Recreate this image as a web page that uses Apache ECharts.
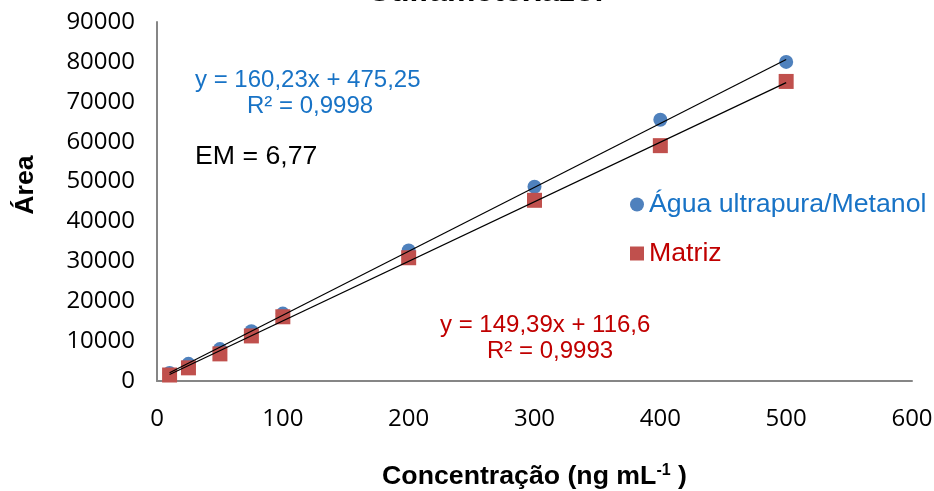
<!DOCTYPE html>
<html>
<head>
<meta charset="utf-8">
<script src="https://cdn.jsdelivr.net/npm/echarts@6/dist/echarts.min.js"></script>
<style>
  html, body { margin: 0; padding: 0; background: #fff; }
  #chart { width: 934px; height: 491px; }
</style>
</head>
<body>
<div id="chart"></div>
<script>
// Concentrations (ng mL-1)
const concentrations = [10, 25, 50, 75, 100, 200, 300, 400, 500];
// Peak areas, solvent standards
const areaSolvent = [2000, 4300, 8000, 12500, 16900, 32700, 48700, 65500, 80000];
// Peak areas, matrix-matched standards
const areaMatrix = [1500, 3300, 6800, 11300, 16100, 30900, 45300, 59000, 75100];
// Linear fits (slope, intercept)
const fitSolvent = [160.23, 475.25];
const fitMatrix = [149.39, 116.6];
const xTicks = [0, 100, 200, 300, 400, 500, 600];
const yTicks = [0, 10000, 20000, 30000, 40000, 50000, 60000, 70000, 80000, 90000];

const FONT = '"Liberation Sans", Arial, sans-serif';
const TICK_FONT = '"Open Sans", "Noto Sans", sans-serif';
const xMin = concentrations[0], xMax = concentrations[concentrations.length - 1];
const fitLine = (f) => [[xMin, f[0] * xMin + f[1]], [xMax, f[0] * xMax + f[1]]];

const chart = echarts.init(document.getElementById('chart'));
chart.setOption({
  animation: false,
  backgroundColor: '#fff',
  grid: { left: 157, right: 22, top: 22, bottom: 110, containLabel: false, outerBoundsMode: 'none' },
  title: {
    text: 'Sulfametoxazol',
    left: 481, textAlign: 'center', top: -29,
    textStyle: { fontFamily: FONT, fontWeight: 'bold', fontSize: 32, color: '#000' }
  },
  legend: {
    orient: 'vertical', left: 630, top: 191, itemGap: 22, padding: 0,
    itemWidth: 14, itemHeight: 14,
    textStyle: { fontFamily: FONT, fontSize: 26.7 },
    data: [
      { name: 'Água ultrapura/Metanol', icon: 'circle', textStyle: { color: '#1873C6' } },
      { name: 'Matriz', icon: 'rect', textStyle: { color: '#C00000' } }
    ]
  },
  xAxis: {
    type: 'value', min: xTicks[0], max: xTicks[xTicks.length - 1], interval: 100,
    splitLine: { show: false },
    axisLine: { lineStyle: { color: '#868686', width: 2 } },
    axisTick: { show: false },
    axisLabel: { fontFamily: TICK_FONT, fontSize: 24, color: '#000', margin: 26 },
    name: '{b|Concentração (ng mL}{s|-1}{b| )}',
    nameLocation: 'middle', nameGap: 82,
    nameTextStyle: {
      rich: {
        b: { fontFamily: FONT, fontWeight: 'bold', fontSize: 26.7, color: '#000' },
        s: { fontFamily: FONT, fontWeight: 'bold', fontSize: 16, color: '#000', verticalAlign: 'top', padding: [0, 0, 12, 0] }
      }
    }
  },
  yAxis: {
    type: 'value', min: yTicks[0], max: yTicks[yTicks.length - 1], interval: 10000,
    splitLine: { show: false },
    axisLine: { show: true, lineStyle: { color: '#868686', width: 2 } },
    axisTick: { show: false },
    axisLabel: { fontFamily: TICK_FONT, fontSize: 24, color: '#000', margin: 22, formatter: (v) => String(v) }
  },
  series: [
    {
      name: 'Água ultrapura/Metanol', type: 'scatter', symbol: 'circle', symbolSize: 14,
      itemStyle: { color: '#4F81BD', opacity: 1 }, z: 2,
      data: concentrations.map((c, i) => [c, areaSolvent[i]])
    },
    {
      name: 'Matriz', type: 'scatter', symbol: 'rect', symbolSize: 15,
      itemStyle: { color: '#C0504D', opacity: 1 }, z: 3,
      data: concentrations.map((c, i) => [c, areaMatrix[i]])
    },
    {
      name: 'fit-solvent', type: 'line', showSymbol: false, z: 4, silent: true,
      lineStyle: { color: '#000', width: 1.2 }, data: fitLine(fitSolvent)
    },
    {
      name: 'fit-matrix', type: 'line', showSymbol: false, z: 4, silent: true,
      lineStyle: { color: '#000', width: 1.2 }, data: fitLine(fitMatrix)
    }
  ],
  graphic: [
    { type: 'text', x: 26, y: 185, rotation: Math.PI / 2,
      style: { text: 'Área', font: 'bold 26.7px ' + FONT, fill: '#000', align: 'center', verticalAlign: 'middle' } },
    { type: 'text', x: 195, y: 80, style: { text: 'y = 160,23x + 475,25', font: '24px ' + FONT, fill: '#1873C6', verticalAlign: 'middle' } },
    { type: 'text', x: 247, y: 106, style: { text: 'R² = 0,9998', font: '24px ' + FONT, fill: '#1873C6', verticalAlign: 'middle' } },
    { type: 'text', x: 195, y: 157, style: { text: 'EM = 6,77', font: '26.7px ' + FONT, fill: '#000', verticalAlign: 'middle' } },
    { type: 'text', x: 440, y: 325, style: { text: 'y = 149,39x + 116,6', font: '24px ' + FONT, fill: '#C00000', verticalAlign: 'middle' } },
    { type: 'text', x: 487, y: 351, style: { text: 'R² = 0,9993', font: '24px ' + FONT, fill: '#C00000', verticalAlign: 'middle' } }
  ]
});
</script>
</body>
</html>
